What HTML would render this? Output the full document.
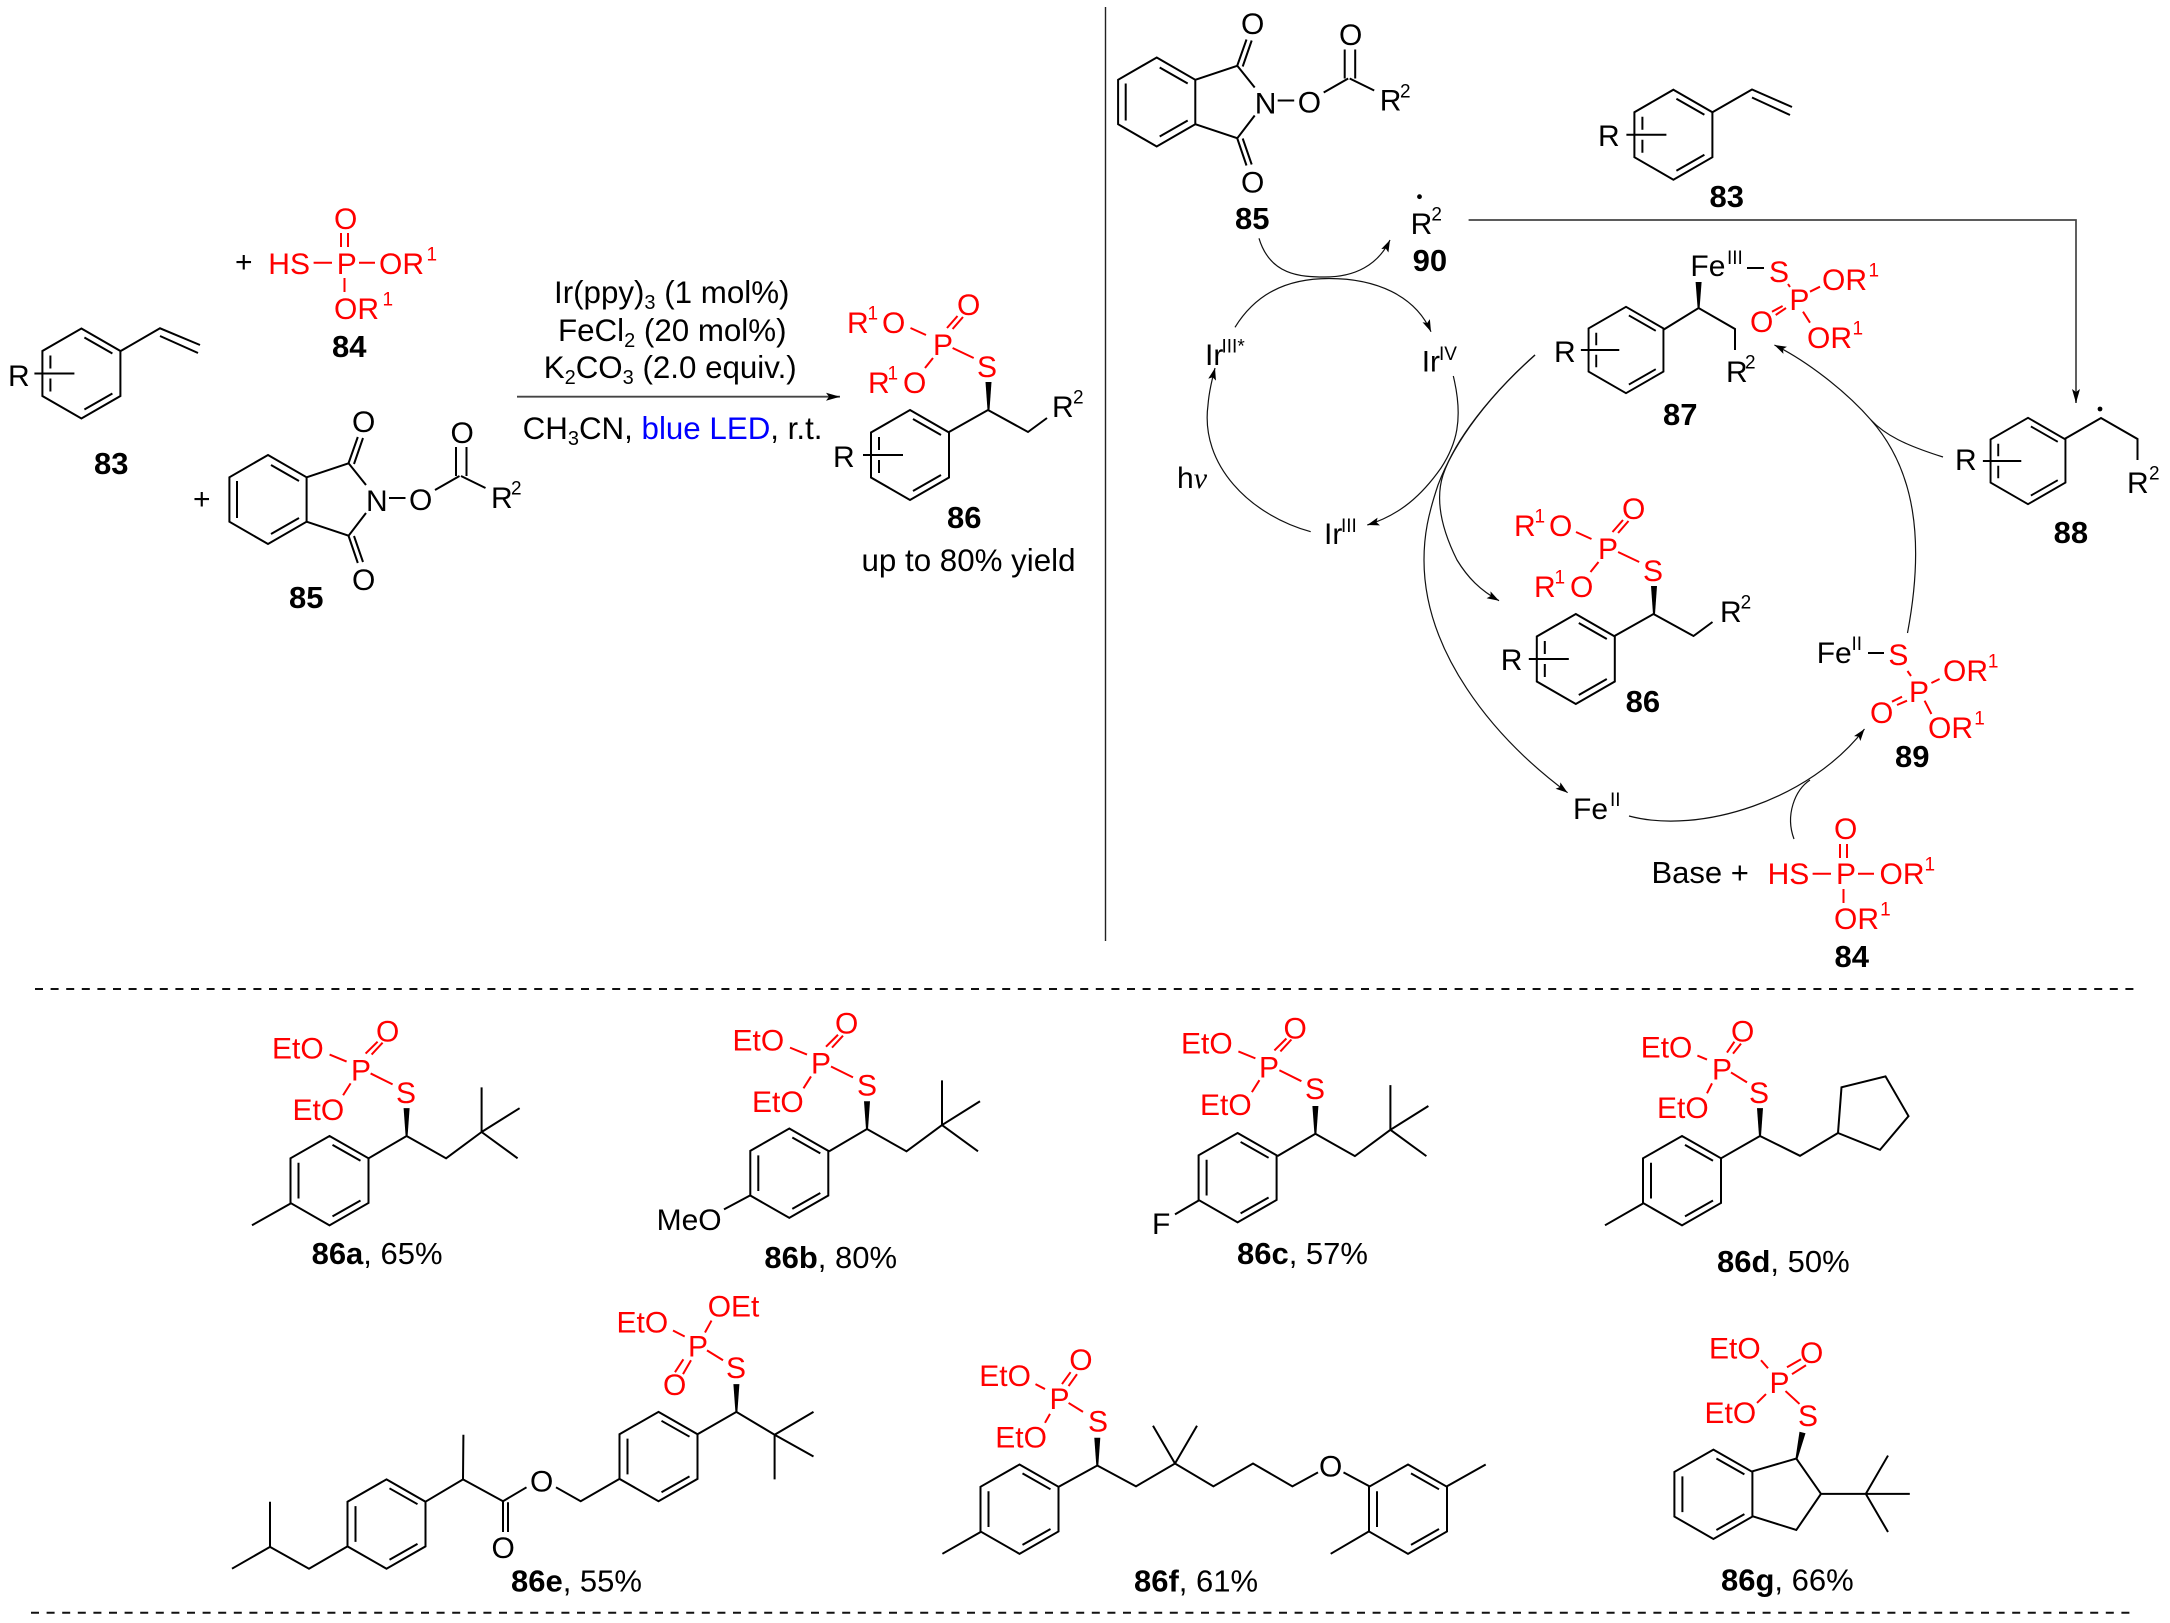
<!DOCTYPE html>
<html><head><meta charset="utf-8"><style>
html,body{margin:0;padding:0;background:#fff}
svg{display:block}
text{font-family:"Liberation Sans",Arial,sans-serif;font-size:30px;fill:#000;white-space:pre}
.r{fill:#f00}
.b{font-weight:bold;font-size:31px}
.l{font-size:31px}
.c{font-size:31.3px}
.s{font-size:19px;transform:translate(-1px,-2.5px)}
.rs{font-size:19px;fill:#f00;transform:translate(-1.5px,-2.5px)}
.n{font-size:19px}
.k{fill:none;stroke:#000;stroke-width:2}
.rb{fill:none;stroke:#f00;stroke-width:2}
.a{fill:none;stroke:#111;stroke-width:1.2}
</style></head><body>
<svg xmlns="http://www.w3.org/2000/svg" width="2170" height="1623" viewBox="0 0 2170 1623">
<defs>
<marker id="ah" markerUnits="userSpaceOnUse" markerWidth="16" markerHeight="12" refX="14" refY="5" orient="auto"><path d="M0,1 L14,5 L0,9 L3,5 Z" fill="#000"/></marker>
<marker id="am" markerUnits="userSpaceOnUse" markerWidth="14" markerHeight="10" refX="12" refY="4" orient="auto"><path d="M0,0 L12,4 L0,8 L2.5,4 Z" fill="#000"/></marker>
<g id="ring"><path class="k" d="M0,-45 L39,-22.5 L39,22.5 L0,45 L-39,22.5 L-39,-22.5 Z M3,-36 L31,-20 M31,20 L3,36 M-31,-18 L-31,18"/></g>
<g id="ringR"><path class="k" d="M0,-45 L39,-22.5 L39,22.5 L0,45 L-39,22.5 L-39,-22.5 Z M3,-36 L31,-20 M31,20 L3,36 M-31,-18 L-31,-5 M-31,5 L-31,18 M-47,0 L-7,0"/></g>
<path id="tb" class="k" d="M-38,22.5 L0,0 L39.5,22.5 L75,-4 M75,-4 L75,-49 M75,-4 L113,-28 M75,-4 L111,22.5"/>
<polygon id="w" points="-3,-28 3,-28 1,0 -1,0" fill="#000"/>
<path id="ph" class="rb" d="M-77,-82 L-60,-75 M-41,-83 L-29,-95 M-35,-82 L-24,-94 M-36,-63 L-14,-52 M-56,-53 L-63.5,-41"/>
<g id="phth"><path class="k" d="M268,455 L306.6,477.3 L306.6,521.7 L268,544 L229.4,521.7 L229.4,477.3 Z M271,465 L299,481 M299,518 L271,534 M237,481 L237,518 M306.6,477.3 L348.6,463.3 L366,485 M306.6,521.7 L348.6,535.7 L366,513 M348.6,463 L357.8,437 M354,464 L363,438 M348.6,536 L357.8,563 M354,536 L363,562 M389,498 L405.5,498 M435,490 L459.5,476 M456,476 L456,447 M466.5,476 L466.5,447 M461,476 L485.5,488"/></g>
<g id="p84"><path class="rb" d="M313.6,262.7 L332,262.7 M359,262.7 L375,262.7 M341,233 L341,247 M348,233 L348,247 M344.5,278 L344.5,292"/></g>
<path id="ch86" class="k" d="M949,432 L988,410 L1028,432 L1047,418"/>
<path id="ph86" class="rb" d="M910.5,328 L926,335 M947,328 L957.5,316 M952.6,329 L963,317 M952.6,348 L973.7,358 M933,358 L925,368"/>
</defs>

<!-- top-left reaction -->
<use href="#ringR" x="81.4" y="373.5"/>
<path class="k" d="M120.7,351 L160,328.3 L200,345 M160,336 L198,353"/>
<text x="8" y="386">R</text>
<text class="b" x="94" y="474">83</text>

<text x="235" y="272">+</text>
<use href="#p84"/>
<text class="r" x="268.3" y="274">HS</text><text class="r" x="336.7" y="274">P</text><text class="r" x="379" y="274">OR</text><text class="rs" x="428" y="263">1</text>
<text class="r" x="334" y="229">O</text>
<text class="r" x="334" y="319">OR</text><text class="rs" x="384" y="308">1</text>
<text class="b" x="332" y="357">84</text>

<text x="193" y="509">+</text>
<use href="#phth"/>
<text x="366" y="511">N</text><text x="352" y="432">O</text><text x="352" y="590">O</text><text x="409" y="510">O</text><text x="450.5" y="443">O</text>
<text x="491" y="508">R</text><text class="s" x="512" y="497">2</text>
<text class="b" x="289" y="608">85</text>

<text class="c" x="554" y="303">Ir(ppy)<tspan font-size="20" dy="6">3</tspan><tspan dy="-6"> (1 mol%)</tspan></text>
<text class="c" x="558" y="341">FeCl<tspan font-size="20" dy="6">2</tspan><tspan dy="-6"> (20 mol%)</tspan></text>
<text class="c" x="543.7" y="378">K<tspan font-size="20" dy="6">2</tspan><tspan dy="-6">CO</tspan><tspan font-size="20" dy="6">3</tspan><tspan dy="-6"> (2.0 equiv.)</tspan></text>
<line x1="517" y1="396.7" x2="840" y2="396.7" stroke="#444" stroke-width="1.8" marker-end="url(#ah)"/>
<text class="c" x="522.6" y="439">CH<tspan font-size="20" dy="6">3</tspan><tspan dy="-6">CN, </tspan><tspan style="fill:#00f">blue LED</tspan>, r.t.</text>

<use href="#ringR" x="910" y="455"/>
<use href="#ch86"/>
<polygon points="985.5,382 991.5,382 989.5,410 987.5,410" fill="#000"/>
<use href="#ph86"/>
<text class="r" x="977" y="377">S</text><text class="r" x="933" y="355">P</text><text class="r" x="957" y="315">O</text>
<text class="r" x="847" y="333">R</text><text class="rs" x="869" y="322">1</text><text class="r" x="882" y="333">O</text>
<text class="r" x="868" y="393">R</text><text class="rs" x="889" y="382">1</text><text class="r" x="903" y="393">O</text>
<text x="833" y="467">R</text>
<text x="1052" y="417">R</text><text class="s" x="1074" y="406">2</text>
<text class="b" x="947" y="528">86</text>
<text class="c" x="861.5" y="571">up to 80% yield</text>

<line x1="1105.5" y1="7" x2="1105.5" y2="941" stroke="#222" stroke-width="1.4"/>

<!-- mechanism -->
<g transform="translate(888.7,-397.5)"><use href="#phth"/></g>
<text x="1254.7" y="113.5">N</text><text x="1241" y="34">O</text><text x="1241" y="192.5">O</text><text x="1297.7" y="112.5">O</text><text x="1339" y="45">O</text>
<text x="1379.7" y="110.7">R</text><text class="s" x="1401" y="100">2</text>
<text class="b" x="1235" y="229">85</text>

<use href="#ringR" x="1673.4" y="134.7"/>
<path class="k" d="M1712.4,112.2 L1752,89.5 L1792,107 M1752,97.5 L1790,115"/>
<text x="1598" y="146">R</text>
<text class="b" x="1709.5" y="207">83</text>

<circle cx="1419.5" cy="196.7" r="2.4" fill="#000"/>
<text x="1410.6" y="234">R</text><text class="s" x="1432.4" y="223">2</text>
<text class="b" x="1412.6" y="271">90</text>
<path d="M1468.6,220 L2076,220 L2076,403" fill="none" stroke="#444" stroke-width="1.7" marker-end="url(#ah)"/>

<path class="a" d="M1259,238.3 C1270,275 1300,277 1325,277 C1355,277 1378,265 1390,240" marker-end="url(#am)"/>
<path class="a" d="M1235,327.3 C1255,295 1285,278.5 1329,278.5 C1375,278.5 1415,295 1431,331.7" marker-end="url(#am)"/>
<text x="1205" y="365">Ir</text><text class="n" x="1221.5" y="352.7">III*</text>
<text x="1421.7" y="371.7">Ir</text><text class="n" x="1439" y="360">IV</text>
<text x="1177" y="488">h<tspan style="font-family:'Liberation Serif',serif;font-style:italic">ν</tspan></text>
<text x="1324" y="544">Ir</text><text class="n" x="1341" y="532">III</text>
<path class="a" d="M1310.7,531.7 C1250,515 1200,465 1208,405 C1209,392 1212,380 1215,368" marker-end="url(#am)"/>
<path class="a" d="M1453.3,376 C1464,420 1456,445 1441,468 C1422,495 1400,515 1367.3,525" marker-end="url(#am)"/>
<path class="a" d="M1535,355 C1490,395 1455,440 1438,485 C1428,515 1424,535 1424,560 C1424,650 1490,735 1567.6,792.7" marker-end="url(#am)"/>
<path class="a" d="M1535,355 C1490,395 1455,440 1443,475 C1435,500 1442,530 1457,560 C1468,578 1480,590 1499,600.7" marker-end="url(#am)"/>
<path class="a" d="M1629,816 C1700,835 1810,800 1864.5,729" marker-end="url(#am)"/>
<path class="a" d="M1794,839 C1785,815 1795,790 1810,780"/>
<path class="a" d="M1943,457 C1905,445 1885,435 1871,420"/>
<path class="a" d="M1907.5,633 C1925,540 1915,470 1871,420 C1845,390 1805,360 1774.4,345" marker-end="url(#am)"/>

<!-- 87 -->
<g transform="translate(1626,350) scale(.96)"><use href="#ringR"/></g>
<path class="k" d="M1663,330 L1698.6,308 L1735,329 L1735,350 M1747,268 L1764,268"/>
<polygon points="1695.6,282 1701.6,282 1699.6,308 1697.6,308" fill="#000"/>
<path class="rb" d="M1810,291.7 L1820,286.7 M1803,311.7 L1810,322.7 M1772,311.7 L1782.6,306 M1775.7,315 L1786,308 M1788,284 L1790,287"/>
<text x="1554" y="362">R</text>
<text x="1726" y="382">R</text><text class="s" x="1746" y="371">2</text>
<text x="1690.4" y="276">Fe</text><text class="n" x="1727" y="264">III</text>
<text class="r" x="1769" y="282">S</text><text class="r" x="1789.4" y="310">P</text>
<text class="r" x="1822" y="290">OR</text><text class="rs" x="1870" y="279">1</text>
<text class="r" x="1807" y="348">OR</text><text class="rs" x="1854" y="337">1</text>
<text class="r" x="1750" y="332">O</text>
<text class="b" x="1663" y="425">87</text>

<!-- 88 -->
<g transform="translate(2028,461) scale(.96)"><use href="#ringR"/></g>
<path class="k" d="M2064.5,439 L2101,418 L2137.5,439 L2137.5,460"/>
<circle cx="2100" cy="409" r="2.4" fill="#000"/>
<text x="1955" y="470">R</text>
<text x="2127" y="493">R</text><text class="s" x="2150" y="482">2</text>
<text class="b" x="2053.6" y="543">88</text>

<!-- 86 mech -->
<use href="#ringR" x="1575.8" y="659"/>
<g transform="translate(665.5,204)"><use href="#ch86"/><polygon points="985.5,382 991.5,382 989.5,410 987.5,410" fill="#000"/><use href="#ph86"/></g>
<text class="r" x="1643" y="581">S</text><text class="r" x="1598" y="559">P</text><text class="r" x="1622" y="519">O</text>
<text class="r" x="1514" y="536">R</text><text class="rs" x="1536" y="525">1</text><text class="r" x="1549" y="536">O</text>
<text class="r" x="1534" y="597">R</text><text class="rs" x="1556" y="586">1</text><text class="r" x="1570" y="597">O</text>
<text x="1500.7" y="670">R</text>
<text x="1720" y="622">R</text><text class="s" x="1741.6" y="611">2</text>
<text class="b" x="1625.6" y="712">86</text>

<!-- 89 -->
<path class="k" d="M1868,653 L1884,653"/>
<path class="rb" d="M1907.5,671 L1911,676 M1931.4,683 L1939.6,679 M1924.6,700.7 L1931.4,714 M1892,701.7 L1902,696.7 M1897,705 L1907,700.7"/>
<text x="1816.7" y="663">Fe</text><text class="n" x="1851.5" y="650">II</text>
<text class="r" x="1888.4" y="665">S</text><text class="r" x="1909" y="702">P</text>
<text class="r" x="1943" y="681">OR</text><text class="rs" x="1989.4" y="670">1</text>
<text class="r" x="1928" y="738">OR</text><text class="rs" x="1975.7" y="727">1</text>
<text class="r" x="1870" y="723">O</text>
<text class="b" x="1895" y="767">89</text>

<text x="1573" y="819">Fe</text><text class="n" x="1610" y="806">II</text>
<text class="l" x="1651.5" y="883">Base +</text>
<g transform="translate(1499,611)"><use href="#p84"/></g>
<text class="r" x="1767.6" y="884">HS</text><text class="r" x="1836" y="884">P</text><text class="r" x="1879.5" y="884">OR</text><text class="rs" x="1926" y="873">1</text>
<text class="r" x="1834" y="839">O</text>
<text class="r" x="1834" y="929">OR</text><text class="rs" x="1881.6" y="918">1</text>
<text class="b" x="1834.5" y="967">84</text>

<!-- dashes -->
<line x1="35" y1="989" x2="2137" y2="989" stroke="#111" stroke-width="2" stroke-dasharray="8 7.6"/>
<line x1="31" y1="1612.7" x2="2137" y2="1612.7" stroke="#111" stroke-width="2" stroke-dasharray="8 7.6"/>

<g transform="translate(0,7.5) scale(1,.9925)">
<!-- 86a -->
<use href="#ring" x="329.5" y="1182"/>
<g transform="translate(406.6,1137)"><use href="#tb"/><use href="#w"/><use href="#ph"/></g>
<path class="k" d="M290.6,1205 L252,1227"/>
<text class="r" x="396" y="1104">S</text><text class="r" x="351" y="1081">P</text><text class="r" x="376" y="1042">O</text><text class="r" x="272" y="1059">EtO</text><text class="r" x="292.5" y="1121">EtO</text>
<text class="l" x="311.6" y="1266"><tspan font-weight="bold">86a</tspan>, 65%</text>

<!-- 86b -->
<use href="#ring" x="789.3" y="1174.5"/>
<g transform="translate(867,1130)"><use href="#tb"/><use href="#w"/><use href="#ph"/></g>
<path class="k" d="M724,1211 L750,1197"/>
<text x="656.6" y="1232">MeO</text>
<text class="r" x="857" y="1096">S</text><text class="r" x="811" y="1074">P</text><text class="r" x="835" y="1034">O</text><text class="r" x="732.5" y="1051">EtO</text><text class="r" x="752" y="1113">EtO</text>
<text class="l" x="764.4" y="1270"><tspan font-weight="bold">86b</tspan>, 80%</text>

<!-- 86c -->
<use href="#ring" x="1237.6" y="1179"/>
<g transform="translate(1315.4,1134.8)"><use href="#tb"/><use href="#w"/><g transform="translate(0,-1)"><use href="#ph"/></g></g>
<path class="k" d="M1198.7,1202 L1175,1216"/>
<text x="1152" y="1236">F</text>
<text class="r" x="1305" y="1100">S</text><text class="r" x="1259" y="1078">P</text><text class="r" x="1283.5" y="1039">O</text><text class="r" x="1181" y="1054">EtO</text><text class="r" x="1200" y="1116">EtO</text>
<text class="l" x="1237" y="1266"><tspan font-weight="bold">86c</tspan>, 57%</text>

<!-- 86d -->
<use href="#ring" x="1682" y="1182"/>
<path class="k" d="M1643,1205 L1605,1227 M1721,1159.5 L1760,1137 L1800,1157 L1838,1134 L1841.5,1088 L1885.5,1077 L1908.5,1117 L1880,1151 L1838,1134"/>
<use href="#w" x="1760" y="1137"/>
<path class="rb" d="M1697.4,1056 L1707,1060 M1727,1053 L1734.4,1042 M1733,1054 L1741,1044 M1731,1073 L1747,1083 M1712,1084 L1707,1094"/>
<text class="r" x="1749" y="1104">S</text><text class="r" x="1712" y="1080">P</text><text class="r" x="1731" y="1042">O</text><text class="r" x="1640.7" y="1058">EtO</text><text class="r" x="1657" y="1119">EtO</text>
<text class="l" x="1717" y="1274"><tspan font-weight="bold">86d</tspan>, 50%</text>

<!-- 86e -->
<use href="#ring" x="658.5" y="1460"/>
<use href="#ring" x="386.5" y="1528"/>
<path class="k" d="M697.5,1437.5 L736.4,1415 L774.6,1438 M774.6,1438 L813.5,1415 M774.6,1438 L813.5,1460 M774.6,1438 L774.6,1483 M619.5,1482.5 L580.7,1505 L556,1491 M526.5,1491 L503,1505 L463,1483 L425.5,1505.5 M503,1505 L503,1536 M508,1506 L508,1536 M463,1483 L463.4,1438 M347.5,1550.5 L309,1573 L270,1551 L232,1573 M270,1551 L270,1505.6"/>
<use href="#w" x="736.4" y="1415"/>
<path class="rb" d="M673,1333 L684.7,1339 M711.5,1323 L705,1335 M683.4,1362 L675,1375 M691,1363 L683,1377 M707,1353 L723,1363"/>
<text class="r" x="726" y="1381">S</text><text class="r" x="688" y="1359">P</text><text class="r" x="663" y="1398">O</text><text class="r" x="616.5" y="1335">EtO</text><text class="r" x="707.7" y="1319">OEt</text>
<text x="530" y="1495">O</text><text x="491.5" y="1562">O</text>
<text class="l" x="511" y="1596"><tspan font-weight="bold">86e</tspan>, 55%</text>

<!-- 86f -->
<use href="#ring" x="1019.5" y="1513"/>
<use href="#ring" x="1408" y="1513"/>
<path class="k" d="M980.6,1536 L942.4,1558 M1058.5,1490.5 L1097.3,1469 L1136,1490 L1175,1467 L1213.4,1490 L1253,1467 L1292.4,1490 L1318,1476 M1175,1467 L1153,1429 M1175,1467 L1197,1429 M1343.5,1476 L1369.6,1490 M1446.8,1490 L1485.7,1468 M1369.6,1535 L1330.7,1558"/>
<use href="#w" x="1097.3" y="1469"/>
<path class="rb" d="M1035.5,1387 L1045,1392 M1062,1387 L1070.6,1375 M1068.6,1389 L1077,1377 M1068.6,1406 L1083,1415 M1050,1417 L1045,1426"/>
<text class="r" x="1088" y="1435">S</text><text class="r" x="1049.5" y="1412">P</text><text class="r" x="1069.3" y="1373">O</text><text class="r" x="979.3" y="1389">EtO</text><text class="r" x="995.3" y="1451">EtO</text>
<text x="1319" y="1480">O</text>
<text class="l" x="1134" y="1596"><tspan font-weight="bold">86f</tspan>, 61%</text>

<!-- 86g -->
<use href="#ring" x="1713.4" y="1498"/>
<path class="k" d="M1752,1475 L1796.3,1462 L1821,1497.6 L1796.3,1534 L1752,1520 M1821,1497.6 L1909.8,1497.6 M1865.8,1497.6 L1888,1459 M1865.8,1497.6 L1888,1536"/>
<polygon points="1799.5,1435 1805.5,1436.5 1797.5,1462.5 1795.5,1462" fill="#000"/>
<path class="rb" d="M1761,1363 L1768,1371 M1787,1370 L1801,1362 M1792,1377 L1806,1368 M1785.5,1394 L1799.5,1407 M1757,1406 L1766,1397"/>
<text class="r" x="1798" y="1429">S</text><text class="r" x="1769.5" y="1396">P</text><text class="r" x="1800" y="1366">O</text><text class="r" x="1709" y="1361">EtO</text><text class="r" x="1704.5" y="1426">EtO</text>
<text class="l" x="1721" y="1595"><tspan font-weight="bold">86g</tspan>, 66%</text>
</g>
</svg>
</body></html>
